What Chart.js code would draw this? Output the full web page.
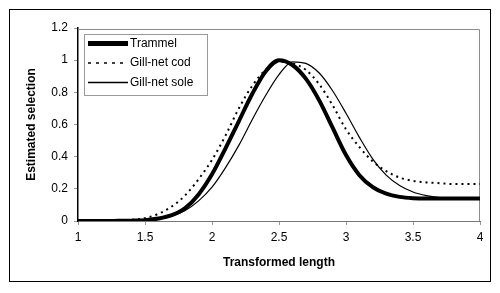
<!DOCTYPE html>
<html lang="en">
<head>
<meta charset="UTF-8">
<title>Estimated selection</title>
<script src="https://cdn.jsdelivr.net/npm/chart.js"></script>
<style>
  html, body { margin: 0; padding: 0; background: #fff; }
  #wrap { position: relative; width: 500px; height: 293px; }
</style>
</head>
<body>
<div id="wrap"><canvas id="grafico" width="500" height="293"></canvas></div>
<script>
// transformed length, step 0.1 from 1 to 4
const lengths = [1.0, 1.1, 1.2, 1.3, 1.4, 1.5, 1.6, 1.7, 1.8, 1.9,
                 2.0, 2.1, 2.2, 2.3, 2.4, 2.5, 2.6, 2.7, 2.8, 2.9,
                 3.0, 3.1, 3.2, 3.3, 3.4, 3.5, 3.6, 3.7, 3.8, 3.9, 4.0];

const trammel = [0, 0, 0, 0.001, 0.002, 0.005, 0.015, 0.036, 0.08, 0.165,
                 0.29, 0.45, 0.62, 0.79, 0.93, 1.0, 0.97, 0.885, 0.75, 0.58,
                 0.41, 0.285, 0.21, 0.17, 0.15, 0.142, 0.14, 0.14, 0.14, 0.14, 0.14];

const gillCod = [0, 0, 0.001, 0.003, 0.008, 0.018, 0.045, 0.09, 0.16, 0.26,
                 0.38, 0.53, 0.70, 0.84, 0.94, 0.99, 0.98, 0.94, 0.85, 0.72,
                 0.57, 0.46, 0.37, 0.31, 0.27, 0.25, 0.24, 0.235, 0.23, 0.23, 0.23];

const gillSole = [0, 0, 0, 0.001, 0.002, 0.005, 0.012, 0.03, 0.065, 0.125,
                  0.21, 0.33, 0.47, 0.63, 0.78, 0.91, 0.99, 0.98, 0.92, 0.81,
                  0.67, 0.52, 0.385, 0.285, 0.22, 0.18, 0.158, 0.146, 0.141, 0.14, 0.14];

const xTicks = [1, 1.5, 2, 2.5, 3, 3.5, 4];
const yTicks = [0, 0.2, 0.4, 0.6, 0.8, 1, 1.2];

function pontos(valores) {
    return lengths.map((x, i) => ({ x: x, y: valores[i] }));
}

const fonte = "'Liberation Sans', Arial, sans-serif";

// moldura externa, caixa da área e legenda
const molduraPlugin = {
    id: 'moldura',
    beforeDatasetsDraw(chart) {
        const ctx = chart.ctx;
        const a = chart.chartArea;
        ctx.save();
        ctx.strokeStyle = '#8c8c8c';
        ctx.lineWidth = 1;
        ctx.beginPath();
        ctx.moveTo(a.left, a.top + 1.5);
        ctx.lineTo(a.right - 0.5, a.top + 1.5);
        ctx.lineTo(a.right - 0.5, a.bottom);
        ctx.stroke();
        ctx.restore();
    },
    afterDraw(chart) {
        const ctx = chart.ctx;
        ctx.save();
        ctx.strokeStyle = '#000';
        ctx.lineWidth = 1;
        ctx.strokeRect(9.5, 9.5, 481, 272);

        // legenda
        ctx.strokeStyle = '#999';
        ctx.strokeRect(84.5, 34.5, 123, 61);
        ctx.font = '12px ' + fonte;
        ctx.textBaseline = 'middle';
        ctx.fillStyle = '#000';
        chart.data.datasets.forEach((ds, i) => {
            const y = 43.5 + i * 19.5;
            ctx.beginPath();
            ctx.strokeStyle = ds.borderColor;
            ctx.lineWidth = ds.legendWidth;
            ctx.setLineDash(ds.legendDash);
            ctx.moveTo(88, y);
            ctx.lineTo(128, y);
            ctx.stroke();
            ctx.setLineDash([]);
            ctx.fillText(ds.label, 130, y);
        });
        ctx.restore();
    }
};

const ctx = document.getElementById('grafico').getContext('2d');
new Chart(ctx, {
    type: 'line',
    data: {
        datasets: [
            {
                label: 'Trammel',
                data: pontos(trammel),
                borderColor: '#000',
                borderWidth: 4,
                legendWidth: 5,
                legendDash: [],
                pointRadius: 0,
                cubicInterpolationMode: 'monotone',
                fill: false
            },
            {
                label: 'Gill-net cod',
                data: pontos(gillCod),
                borderColor: '#000',
                borderWidth: 2,
                borderDash: [2, 4],
                legendWidth: 1.5,
                legendDash: [3, 5],
                pointRadius: 0,
                cubicInterpolationMode: 'monotone',
                fill: false
            },
            {
                label: 'Gill-net sole',
                data: pontos(gillSole),
                borderColor: '#000',
                borderWidth: 1.2,
                legendWidth: 1.5,
                legendDash: [],
                pointRadius: 0,
                cubicInterpolationMode: 'monotone',
                fill: false
            }
        ]
    },
    options: {
        responsive: false,
        animation: false,
        events: [],
        layout: { padding: { left: 10, right: 20, top: 28, bottom: 19 } },
        plugins: {
            legend: { display: false },
            tooltip: { enabled: false }
        },
        scales: {
            x: {
                type: 'linear',
                min: 1,
                max: 4,
                afterBuildTicks: s => { s.ticks = xTicks.map(v => ({ value: v })); },
                afterFit: s => { s.height = 53; },
                grid: { drawOnChartArea: false, tickLength: 4, color: '#999' },
                border: { color: '#777', width: 1 },
                ticks: {
                    padding: 5,
                    color: '#000',
                    font: { family: fonte, size: 12 },
                    maxRotation: 0,
                    callback: v => String(v)
                },
                title: {
                    display: true,
                    text: 'Transformed length',
                    color: '#000',
                    font: { family: fonte, size: 12, weight: 'bold' },
                    padding: { top: 4, bottom: 4 }
                }
            },
            y: {
                min: 0,
                max: 1.2,
                afterBuildTicks: s => { s.ticks = yTicks.map(v => ({ value: v })); },
                afterFit: s => { s.width = 68; },
                grid: { drawOnChartArea: false, tickLength: 4, color: '#999' },
                border: { color: '#000', width: 1.5 },
                ticks: {
                    padding: 6,
                    color: '#000',
                    font: { family: fonte, size: 12 },
                    callback: v => String(v)
                },
                title: {
                    display: true,
                    text: 'Estimated selection',
                    color: '#000',
                    font: { family: fonte, size: 12, weight: 'bold' },
                    padding: { top: 14, bottom: 4 }
                }
            }
        }
    },
    plugins: [molduraPlugin]
});
</script>
</body>
</html>
